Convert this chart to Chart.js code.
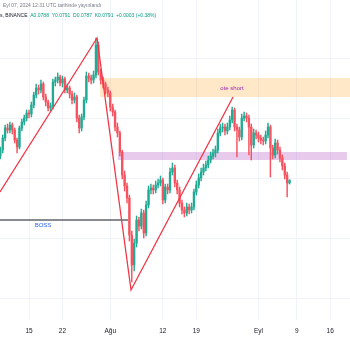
<!DOCTYPE html>
<html>
<head>
<meta charset="utf-8">
<script src="https://cdn.jsdelivr.net/npm/chart.js@4.4.1/dist/chart.umd.min.js"></script>
<style>
  html, body { margin: 0; padding: 0; background: #fff; }
  canvas { display: block; }
</style>
</head>
<body>
<canvas id="myChart" width="350" height="350"></canvas>
<script>
// 12h candles, day 0 = Jul 15
var startDay = -6, stepDay = 0.5;

var opens = [0.0815,0.0821,0.0833,0.0843,0.0841,0.0846,0.0841,0.0831,0.0824,0.0843,
  0.0849,0.0853,0.0858,0.0857,0.0866,0.0876,0.0883,0.0881,0.0887,0.0874,
  0.0869,0.0863,0.0865,0.0889,0.0891,0.0894,0.0888,0.0892,0.0881,0.0883,
  0.0877,0.0871,0.0874,0.0853,0.0843,0.0854,0.0871,0.0895,0.0893,0.0891,
  0.0896,0.0926,0.0899,0.0891,0.0887,0.0881,0.0878,0.0864,0.0859,0.0844,
  0.0838,0.0819,0.0796,0.0785,0.0773,0.0736,0.0706,0.0728,0.0751,0.0745,
  0.0758,0.0738,0.0766,0.0781,0.0783,0.0781,0.0786,0.0788,0.0791,0.0771,
  0.0784,0.0781,0.0799,0.0803,0.0788,0.0781,0.0768,0.0761,0.0758,0.0764,
  0.0761,0.0764,0.0779,0.0786,0.0793,0.0799,0.0803,0.0806,0.0811,0.0815,
  0.0818,0.0821,0.0838,0.0843,0.0844,0.0840,0.0844,0.0851,0.0861,0.0844,
  0.0841,0.0834,0.0853,0.0855,0.0853,0.0844,0.0826,0.0838,0.0836,0.0833,
  0.0831,0.0830,0.0836,0.0844,0.0823,0.0816,0.0828,0.0821,0.0813,0.0805,
  0.0796,0.0788];
var highs = [0.0824,0.0836,0.0846,0.0847,0.0849,0.0848,0.0843,0.0833,0.0845,0.0852,
  0.0856,0.0861,0.0861,0.0869,0.0879,0.0887,0.0886,0.0891,0.0889,0.0877,
  0.0871,0.0868,0.0892,0.0894,0.0898,0.0896,0.0895,0.0894,0.0887,0.0885,
  0.0880,0.0878,0.0876,0.0856,0.0857,0.0874,0.0899,0.0898,0.0896,0.0900,
  0.0933,0.0929,0.0902,0.0894,0.0889,0.0884,0.0880,0.0867,0.0861,0.0848,
  0.0840,0.0821,0.0800,0.0788,0.0776,0.0740,0.0732,0.0755,0.0754,0.0762,
  0.0761,0.0770,0.0785,0.0787,0.0786,0.0790,0.0792,0.0795,0.0793,0.0787,
  0.0787,0.0803,0.0808,0.0806,0.0791,0.0784,0.0771,0.0764,0.0768,0.0767,
  0.0768,0.0782,0.0790,0.0797,0.0803,0.0807,0.0810,0.0815,0.0819,0.0822,
  0.0825,0.0842,0.0847,0.0848,0.0847,0.0848,0.0855,0.0864,0.0863,0.0847,
  0.0844,0.0857,0.0859,0.0858,0.0856,0.0847,0.0842,0.0841,0.0839,0.0836,
  0.0834,0.0840,0.0848,0.0846,0.0826,0.0832,0.0831,0.0824,0.0816,0.0808,
  0.0799,0.0791];
var lows = [0.0812,0.0818,0.0830,0.0838,0.0838,0.0837,0.0828,0.0818,0.0822,0.0840,
  0.0846,0.0850,0.0853,0.0854,0.0863,0.0873,0.0877,0.0878,0.0871,0.0865,
  0.0860,0.0860,0.0862,0.0885,0.0888,0.0885,0.0884,0.0878,0.0878,0.0873,
  0.0867,0.0868,0.0849,0.0838,0.0840,0.0851,0.0868,0.0889,0.0887,0.0888,
  0.0893,0.0896,0.0887,0.0883,0.0877,0.0874,0.0860,0.0855,0.0840,0.0834,
  0.0815,0.0792,0.0780,0.0768,0.0730,0.0689,0.0700,0.0724,0.0740,0.0742,
  0.0733,0.0735,0.0763,0.0777,0.0777,0.0778,0.0783,0.0785,0.0767,0.0768,
  0.0777,0.0778,0.0796,0.0784,0.0777,0.0764,0.0757,0.0754,0.0755,0.0757,
  0.0758,0.0761,0.0776,0.0783,0.0790,0.0796,0.0800,0.0803,0.0808,0.0812,
  0.0814,0.0818,0.0835,0.0839,0.0836,0.0837,0.0841,0.0848,0.0840,0.0814,
  0.0830,0.0831,0.0850,0.0849,0.0816,0.0811,0.0823,0.0832,0.0829,0.0827,
  0.0826,0.0827,0.0833,0.0794,0.0812,0.0813,0.0817,0.0809,0.0801,0.0792,
  0.0774,0.0787];
var closes = [0.0821,0.0833,0.0843,0.0841,0.0846,0.0841,0.0831,0.0824,0.0843,0.0849,
  0.0853,0.0858,0.0857,0.0866,0.0876,0.0883,0.0881,0.0887,0.0874,0.0869,
  0.0863,0.0865,0.0889,0.0891,0.0894,0.0888,0.0892,0.0881,0.0883,0.0877,
  0.0871,0.0874,0.0853,0.0843,0.0854,0.0871,0.0895,0.0893,0.0891,0.0896,
  0.0926,0.0899,0.0891,0.0887,0.0881,0.0878,0.0864,0.0859,0.0844,0.0838,
  0.0819,0.0796,0.0785,0.0773,0.0736,0.0706,0.0728,0.0751,0.0745,0.0758,
  0.0738,0.0766,0.0781,0.0783,0.0781,0.0786,0.0788,0.0791,0.0771,0.0784,
  0.0781,0.0799,0.0803,0.0788,0.0781,0.0768,0.0761,0.0758,0.0764,0.0761,
  0.0764,0.0779,0.0786,0.0793,0.0799,0.0803,0.0806,0.0811,0.0815,0.0818,
  0.0821,0.0838,0.0843,0.0844,0.0840,0.0844,0.0851,0.0861,0.0844,0.0841,
  0.0834,0.0853,0.0855,0.0853,0.0844,0.0826,0.0838,0.0836,0.0833,0.0831,
  0.0830,0.0836,0.0844,0.0823,0.0816,0.0828,0.0821,0.0813,0.0805,0.0796,
  0.0788,0.0791];

var tickDays = [0, 7, 17, 28, 35, 48, 56, 63];
var tickLabels = ['15', '22', 'Ağu', '12', '19', 'Eyl', '9', '16'];
var gridPrices = [0.0913, 0.0853, 0.0793, 0.0733, 0.0673];

var zigDays = [-6.07, 14.23, 21.34, 42.68];
var zigPrices = [0.0779, 0.0933, 0.0681, 0.0874];
var bossDays = [-6.07, 20.71];
var bossPrice = 0.0751;

var oteZone = [14.85, 67.2, 0.0893, 0.0874];
var midZone = [18.6, 66.5, 0.0819, 0.0811];
var oteLabel = [42.47, 0.0883];
var bossLabel = [2.93, 0.0746];

var up = '#22ab94', down = '#f7525f';

var wicks = [], bodies = [], colors = [];
for (var i = 0; i < closes.length; i++) {
    var d = startDay + i * stepDay;
    wicks.push({x: d, y: [lows[i], highs[i]]});
    bodies.push({x: d, y: [opens[i], closes[i]]});
    colors.push(closes[i] >= opens[i] ? up : down);
}

var overlay = {
    id: 'overlay',
    beforeDatasetsDraw: function (chart) {
        var ctx = chart.ctx, xs = chart.scales.x, ys = chart.scales.y;
        function box(z, color) {
            var x1 = xs.getPixelForValue(z[0]), x2 = xs.getPixelForValue(z[1]);
            var y1 = ys.getPixelForValue(z[2]), y2 = ys.getPixelForValue(z[3]);
            ctx.fillStyle = color;
            ctx.fillRect(x1, y1, x2 - x1, y2 - y1);
        }
        ctx.save();
        box(oteZone, 'rgba(255,152,0,0.22)');
        box(midZone, 'rgba(186,104,200,0.35)');
        ctx.restore();
    },
    afterDatasetsDraw: function (chart) {
        var ctx = chart.ctx, xs = chart.scales.x, ys = chart.scales.y;
        ctx.save();
        ctx.textAlign = 'center';
        ctx.textBaseline = 'middle';
        ctx.font = '6px "Liberation Sans", Arial, sans-serif';
        ctx.fillStyle = '#9c27b0';
        ctx.fillText('ote short', xs.getPixelForValue(oteLabel[0]), ys.getPixelForValue(oteLabel[1]));
        ctx.fillStyle = '#2962ff';
        ctx.fillText('BOSS', xs.getPixelForValue(bossLabel[0]), ys.getPixelForValue(bossLabel[1]));
        ctx.restore();
    },
    afterDraw: function (chart) {
        var ctx = chart.ctx;
        ctx.save();
        ctx.textBaseline = 'middle';
        ctx.textAlign = 'left';
        ctx.font = '5px "Liberation Sans", Arial, sans-serif';
        ctx.fillStyle = '#787b86';
        ctx.fillText('Eyl 07, 2024 12:31 UTC tarihinde yayınlandı', 3, 6);
        var parts = [['s, BINANCE  ', '#131722'], ['A0.0788  Y0.0791  D0.0787  K0.0791  +0.0003 (+0.38%)', '#089981']];
        var x = 0;
        for (var p = 0; p < parts.length; p++) {
            ctx.fillStyle = parts[p][1];
            ctx.fillText(parts[p][0], x, 16);
            x += ctx.measureText(parts[p][0]).width;
        }
        ctx.restore();
    }
};

new Chart(document.getElementById('myChart'), {
    type: 'bar',
    data: {
        datasets: [
            {
                type: 'line',
                data: zigDays.map(function (d, k) { return {x: d, y: zigPrices[k]}; }),
                borderColor: '#f23645',
                borderWidth: 1.3,
                pointRadius: 0,
                tension: 0
            },
            {
                type: 'line',
                data: bossDays.map(function (d) { return {x: d, y: bossPrice}; }),
                borderColor: '#131722',
                borderWidth: 1,
                pointRadius: 0
            },
            {
                data: bodies,
                backgroundColor: colors,
                barThickness: 1.7,
                grouped: false
            },
            {
                data: wicks,
                backgroundColor: colors,
                barThickness: 0.8,
                grouped: false
            }
        ]
    },
    options: {
        responsive: false,
        animation: false,
        layout: { padding: 0 },
        plugins: { legend: { display: false }, tooltip: { enabled: false } },
        scales: {
            x: {
                type: 'linear',
                min: -6.07,
                max: 67.15,
                offset: false,
                grid: { color: '#f0f3fa', offset: false, drawTicks: false },
                border: { display: false },
                afterBuildTicks: function (s) {
                    s.ticks = tickDays.map(function (v) { return {value: v}; });
                },
                afterFit: function (s) { s.height = 30; },
                ticks: {
                    padding: 7,
                    maxRotation: 0,
                    autoSkip: false,
                    color: '#131722',
                    font: { size: 6.5, family: '"Liberation Sans", Arial, sans-serif' },
                    callback: function (v) {
                        var k = tickDays.indexOf(v);
                        return k >= 0 ? tickLabels[k] : '';
                    }
                }
            },
            y: {
                position: 'right',
                min: 0.0651,
                max: 0.0971,
                grid: { color: '#f0f3fa', drawTicks: false },
                border: { display: false },
                ticks: { display: false },
                afterBuildTicks: function (s) {
                    s.ticks = gridPrices.map(function (v) { return {value: v}; });
                },
                afterFit: function (s) { s.width = 0; }
            }
        }
    },
    plugins: [overlay]
});
</script>
</body>
</html>
